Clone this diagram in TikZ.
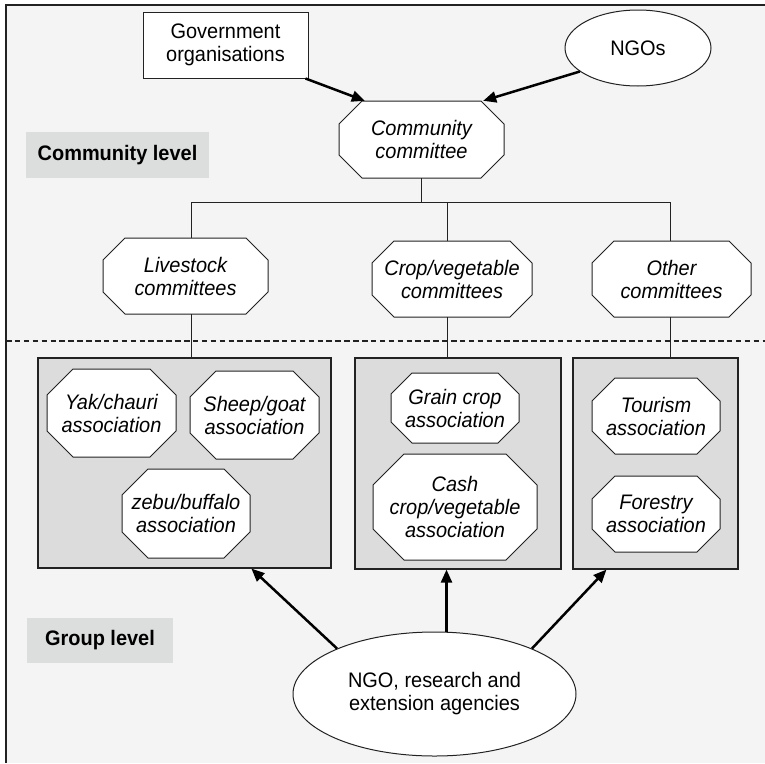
\documentclass[tikz,border=0pt]{standalone}
\usepackage{fontspec}
\setmainfont[FakeStretch=0.95]{Liberation Sans}
\usetikzlibrary{arrows.meta,shapes.geometric}
\definecolor{bgc}{HTML}{F4F4F4}
\definecolor{boxc}{HTML}{DCDCDC}
\definecolor{labc}{HTML}{DCDDDD}
\definecolor{linec}{HTML}{222222}
% name, x1, y1, x2, y2, cut, text
\newcommand\octnode[7]{%
  \filldraw[octline] ({#2+#6},#3) -- ({#4-#6},#3) -- (#4,{#3+#6}) -- (#4,{#5-#6}) -- ({#4-#6},#5) -- ({#2+#6},#5) -- (#2,{#5-#6}) -- (#2,{#3+#6}) -- cycle;
  \node[octtext, minimum width={(#4-#2)*1pt}, minimum height={(#5-#3)*1pt}] (#1) at ({(#2+#4)/2},{(#3+#5)/2}) {#7};}
\begin{document}
\begin{tikzpicture}[x=1pt,y=-1pt,
  octline/.style={fill=white, draw=linec, line width=1pt},
  octtext/.style={inner sep=0pt, align=center, font=\fontsize{21}{23}\selectfont\itshape},
  plainbox/.style={draw=linec, line width=1pt, fill=white, inner sep=0pt, align=center, font=\fontsize{21}{23}\selectfont},
  grp/.style={draw=linec, line width=1.2pt, fill=boxc, inner sep=0pt},
  lab/.style={fill=labc, inner sep=0pt, font=\fontsize{21}{23}\selectfont\bfseries},
  conn/.style={draw=linec, line width=1pt},
  bigarrow/.style={draw=black, line width=2.5pt, -{Triangle[length=13pt,width=11pt]}}]

\useasboundingbox (0,0) rectangle (765,763);
\fill[bgc] (6,5) rectangle (765,763);
\draw[line width=1.3pt, draw=linec] (6,763) -- (6,5) -- (765,5);

% top level
\node[plainbox, minimum width=165pt, minimum height=66pt] (gov) at (225.5,45) {Government\\organisations};
\node[plainbox, ellipse, minimum width=146pt, minimum height=76pt] (ngo) at (638,48) {NGOs};
\octnode{com}{339}{101}{504}{178}{23}{Community\\committee}

% level labels
\node[lab, minimum width=183pt, minimum height=46pt] (cl) at (117.5,155) {Community level};
\node[lab, minimum width=146pt, minimum height=45pt] (gl) at (100,640.5) {Group level};

% committees
\octnode{lv}{103}{238}{268}{314}{22}{Livestock\\committees}
\octnode{cv}{372}{241}{532}{317}{22}{Crop/vegetable\\committees}
\octnode{oc}{592}{241}{751}{317}{22}{Other\\committees}

% group boxes
\node[grp, minimum width=293pt, minimum height=210pt] (lgb) at (184.5,463) {};
\node[grp, minimum width=206pt, minimum height=211pt] (cgb) at (458,463.5) {};
\node[grp, minimum width=165pt, minimum height=211pt] (ogb) at (655.5,463.5) {};

% associations
\octnode{yak}{47}{369}{176}{457}{26}{Yak/chauri\\association}
\octnode{sheep}{190}{371}{319}{459}{26}{Sheep/goat\\association}
\octnode{zebu}{122}{469}{250}{558}{26}{zebu/buffalo\\association}
\octnode{grain}{391}{373}{519}{443}{21}{Grain crop\\association}
\octnode{cash}{373}{454}{537}{560}{31}{Cash\\crop/vegetable\\association}
\octnode{tour}{592}{378}{720}{454}{23}{Tourism\\association}
\octnode{forest}{592}{476}{720}{552}{23}{Forestry\\association}

% tree connectors
\coordinate (j1) at (191,202);
\coordinate (j2) at (447,202);
\coordinate (j3) at (670,202);
\draw[conn] (com.south) -- (com.south |- j1);
\draw[conn] (j1) -- (j3);
\draw[conn] (j1) -- (j1 |- lv.north);
\draw[conn] (j2) -- (j2 |- cv.north);
\draw[conn] (j3) -- (j3 |- oc.north);
\draw[conn] (j1 |- lv.south) -- (j1 |- lgb.north);
\draw[conn] (j2 |- cv.south) -- (j2 |- cgb.north);
\draw[conn] (j3 |- oc.south) -- (j3 |- ogb.north);

% dashed separator
\coordinate (dl) at (6,341);
\coordinate (dr) at (765,341);
\draw[draw=linec, line width=2.3pt, dash pattern=on 5.5pt off 3.4pt] (dl) -- (dr);

% top arrows
\draw[bigarrow] ([xshift=-3pt]gov.south east) -- ([xshift=26pt]com.north west);
\draw[bigarrow] (ngo.202) -- ([xshift=-21pt]com.north east);

% agencies
\node[plainbox, ellipse, minimum width=283pt, minimum height=124pt] (ell) at (434.5,694) {NGO, research and\\extension agencies};
\draw[bigarrow] (ell.155) -- ([xshift=214pt]lgb.south west);
\draw[bigarrow] ([xshift=12pt]ell.north) -- ([xshift=12pt]ell.north |- cgb.south);
\draw[bigarrow] (ell.25) -- ([xshift=34pt]ogb.south west);
\end{tikzpicture}
\end{document}
